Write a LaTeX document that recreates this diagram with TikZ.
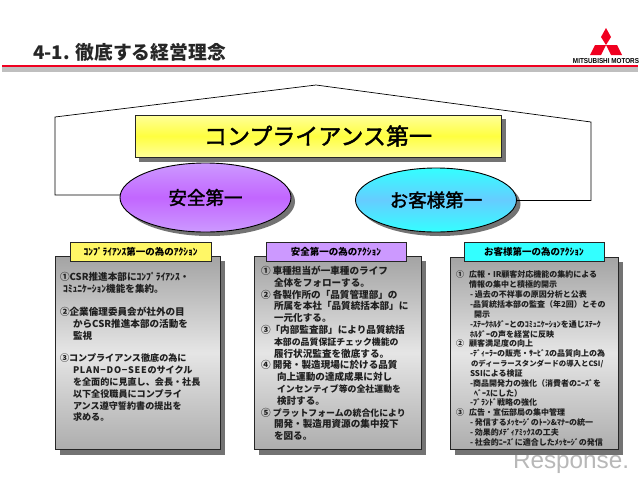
\documentclass[tikz,border=0pt]{standalone}
\usepackage{fontspec}
\setmainfont{Liberation Sans}
\newfontfamily\jp{Noto Sans CJK JP}
\newfontfamily\jpm[FakeBold=1.8]{Noto Sans CJK JP}
\usetikzlibrary{shapes.geometric,shadows}
\definecolor{mmred}{HTML}{F00020}
\definecolor{yedge}{HTML}{FFFF99}
\definecolor{ymid}{HTML}{FFFF40}
\definecolor{vedge}{HTML}{CC99FF}
\definecolor{vmid}{HTML}{C266FF}
\definecolor{cedge}{HTML}{33FFFF}
\definecolor{cmid}{HTML}{66CCFF}
\newcommand\ks{\kern0.7pt}
\newcommand\nrw[1]{{\fontsize{8.9}{11.8}\selectfont #1}}
\newcommand\nrws[1]{{\fontsize{7.4}{9.85}\selectfont #1}}
\tikzset{
  x=1pt,y=-1pt,
  every node/.style={inner sep=0pt,outer sep=0pt},
  shadowbox/.style={fill=black!55,draw=none},
  panel/.style={draw=black!85,line width=0.9pt,top color=black!36,bottom color=black!32,middle color=black!10},
  paneltitle/.style={draw=black!85,line width=0.9pt,font=\jp\bfseries\fontsize{9.5}{11}\selectfont,text=black},
  linetxt/.style={anchor=north west,align=left,text=black!88},
  roofline/.style={draw=black,line width=0.7pt},
}
\begin{document}
\begin{tikzpicture}
\useasboundingbox (0,0) rectangle (640,483);
% title
\node[anchor=west,font=\jp\bfseries\fontsize{18.8}{21}\selectfont,text=black!85] (title) at (33,52) {4-1. 徹底する経営理念};
\fill[black!25] (2,66) rectangle (638,72);
\fill[mmred] (2,64.5) rectangle (638,67);
% logo
\fill[mmred] (606,28) -- (611,37) -- (606,45) -- (601,37) -- cycle;
\fill[mmred] (606,45) -- (617,45) -- (622,55) -- (611,55) -- cycle;
\fill[mmred] (606,45) -- (595,45) -- (590,55) -- (601,55) -- cycle;
\node[font=\bfseries\fontsize{7.2}{8}\selectfont,xscale=0.88] (logotext) at (606,61) {MITSUBISHI MOTORS};
% main box
\fill[shadowbox] (139,119) rectangle (506,161.5);
\node[draw=black!85,line width=0.9pt,minimum width=366pt,minimum height=42pt,
  top color=yedge,bottom color=yedge,middle color=ymid,
  font=\jpm\fontsize{23}{26}\selectfont] (main) at (318,136) {コンプライアンス第一};
% ellipses
\fill[shadowbox] (209.5,201.5) ellipse (85.5 and 34.5);
\fill[shadowbox] (440,204) ellipse (80.5 and 32);
\node[ellipse,draw=black,line width=0.9pt,minimum width=171pt,minimum height=69pt,
  top color=vedge,bottom color=vedge,middle color=vmid,
  font=\jpm\fontsize{18.5}{21}\selectfont] (safe) at (205.5,197.5) {安全第一};
\node[ellipse,draw=black,line width=0.9pt,minimum width=161pt,minimum height=64pt,
  top color=cedge,bottom color=cedge,middle color=cmid,
  font=\jpm\fontsize{18.5}{21}\selectfont] (cust) at (436,200) {お客様第一};
% roof
\coordinate (rl) at (55,195);
\coordinate (ra) at (55,117);
\coordinate (rt) at (316,85);
\coordinate (rb) at (591,122);
\coordinate (rr) at (591,200.5);
\draw[roofline] (safe.west |- rl) -- (rl) -- (ra) -- (rt) -- (rb) -- (rr) -- (cust.east |- rr);
% watermark
\node[anchor=west,font=\fontsize{24.3}{28}\selectfont,text=black!28] (resp) at (513,463) {Response.};
% panel 1
\fill[shadowbox] (60,261) rectangle (225,455);
\node[panel,minimum width=165pt,minimum height=193pt] (p1) at (137.5,352.5) {};
\node[paneltitle,fill=yellow!60!white,minimum width=141pt,minimum height=19pt] (t1) at (140.5,251.5) {ｺﾝﾌﾟﾗｲｱﾝｽ第一の為のｱｸｼｮﾝ};
\node[linetxt,font=\jp\bfseries\fontsize{9.6}{11.8}\selectfont] (b1a) at (60,272) {①CSR推進本部にｺﾝﾌﾟﾗｲｱﾝｽ・\\\hspace*{3pt}ｺﾐｭﾆｹｰｼｮﾝ機能を集約。};
\node[linetxt,font=\jp\bfseries\fontsize{9.6}{11.8}\selectfont] (b1b) at (60,307) {②企業倫理委員会が社外の目\\\hspace*{13pt}からCSR推進本部の活動を\\\hspace*{13pt}監視};
\node[linetxt,font=\jp\bfseries\fontsize{9.1}{11.8}\selectfont] (b1c) at (60,354) {③コンプライアンス徹底の為に\\\hspace*{13pt}P\ks L\ks A\ks N\ks−\ks D\ks O\ks−\ks S\ks E\ks E\ks のサイクル\\\hspace*{13pt}を全面的に見直し、会長・社長\\\hspace*{13pt}以下全役職員にコンプライ\\\hspace*{13pt}アンス遵守誓約書の提出を\\\hspace*{13pt}求める。};
% panel 2
\fill[shadowbox] (259,261) rectangle (426,455);
\node[panel,minimum width=167pt,minimum height=193pt] (p2) at (337.5,352.5) {};
\node[paneltitle,fill=vedge,minimum width=140pt,minimum height=19pt] (t2) at (336,251.5) {安全第一の為のｱｸｼｮﾝ};
\node[linetxt,font=\jp\bfseries\fontsize{9.6}{11.8}\selectfont] (b2) at (261,266) {① 車種担当が一車種のライフ\\\hspace*{13pt}全体をフォローする。\\② 各製作所の「品質管理部」の\\\hspace*{13pt}所属を本社「品質統括本部」に\\\hspace*{13pt}一元化する。\\③「内部監査部」により品質統括\\\hspace*{13pt}\nrw{本部の品質保証チェック機能の}\\\hspace*{13pt}履行状況監査を徹底する。\\④ 開発・製造現場に於ける品質\\\hspace*{16pt}向上運動の達成成果に対し\\\hspace*{16pt}\nrw{インセンティブ等の全社運動を}\\\hspace*{16pt}検討する。\\⑤ \nrw{プラットフォームの統合化により}\\\hspace*{13pt}開発・製造用資源の集中投下\\\hspace*{13pt}を図る。};
% panel 3
\fill[shadowbox] (455,262) rectangle (623,455);
\node[panel,minimum width=168pt,minimum height=192pt] (p3) at (534,353) {};
\node[paneltitle,fill=cedge,minimum width=140pt,minimum height=19pt] (t3) at (534,251.5) {お客様第一の為のｱｸｼｮﾝ};
\node[linetxt,font=\jp\bfseries\fontsize{8}{9.85}\selectfont] (b3) at (456,271) {①\hspace*{5pt}広報・IR顧客対応機能の集約による\\\hspace*{13pt}情報の集中と積極的開示\\\hspace*{14pt}- 過去の不祥事の原因分析と公表\\\hspace*{14pt}-品質統括本部の監査（年2回）とその\\\hspace*{18pt}開示\\\hspace*{14pt}-ｽﾃｰｸﾎﾙﾀﾞｰとのｺﾐｭﾆｹｰｼｮﾝを通じｽﾃｰｸ\\\hspace*{14pt}ﾎﾙﾀﾞｰの声を経営に反映\\②\hspace*{5pt}顧客満足度の向上\\\hspace*{14pt}-ﾃﾞｨｰﾗｰの販売・ｻｰﾋﾞｽの品質向上の為\\\hspace*{15pt}\nrws{のディーラースタンダードの導入とCSI/}\\\hspace*{14pt}SSIによる検証\\\hspace*{14pt}-商品開発力の強化（消費者のﾆｰｽﾞを\\\hspace*{18pt}ﾍﾞｰｽにした）\\\hspace*{14pt}-ﾌﾞﾗﾝﾄﾞ戦略の強化\\③\hspace*{5pt}広告・宣伝部局の集中管理\\\hspace*{14pt}- 発信するﾒｯｾｰｼﾞのﾄｰﾝ\&ﾏﾅｰの統一\\\hspace*{14pt}- 効果的ﾒﾃﾞｨｱﾐｯｸｽの工夫\\\hspace*{14pt}- 社会的ﾆｰｽﾞに適合したﾒｯｾｰｼﾞの発信};
\end{tikzpicture}
\end{document}
